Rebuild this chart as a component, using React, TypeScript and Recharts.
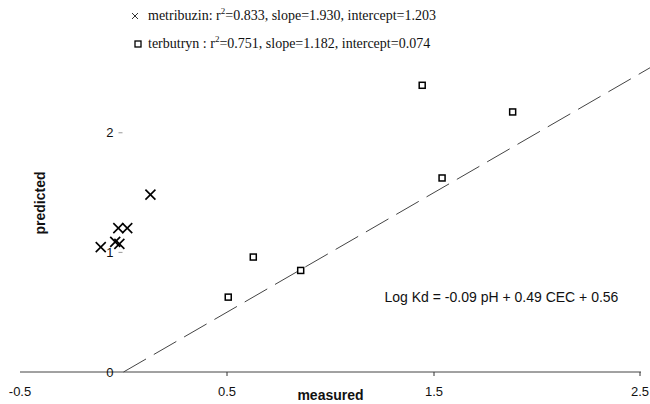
import React from 'react';
import { ScatterChart, Scatter, XAxis, YAxis, ReferenceLine, ReferenceDot, Legend } from 'recharts';

const metribuzinX = [0.13, -0.025, 0.018, -0.11, -0.04, -0.02];
const metribuzinY = [1.483, 1.203, 1.203, 1.044, 1.088, 1.071];
const terbutrynX = [1.443, 1.88, 1.539, 0.627, 0.856, 0.506];
const terbutrynY = [2.397, 2.174, 1.622, 0.961, 0.849, 0.626];

const xTicks = [-0.5, 0.5, 1.5, 2.5];
const yTicks = [0, 1, 2];
const seriesNames = ['metribuzin', 'terbutryn'];
const legendStats = [
  { label: 'metribuzin:', r2: '0.833', slope: '1.930', intercept: '1.203' },
  { label: 'terbutryn :', r2: '0.751', slope: '1.182', intercept: '0.074' },
];
const equationText = 'Log Kd = -0.09 pH + 0.49 CEC + 0.56';
const equationPos = { x: 1.826, y: 0.626 };
const identityLine = [{ x: 0, y: 0 }, { x: 2.55, y: 2.55 }];

const metribuzin = metribuzinX.map((x, i) => ({ x, y: metribuzinY[i] }));
const terbutryn = terbutrynX.map((x, i) => ({ x, y: terbutrynY[i] }));

const W = 650;
const H = 404;
const Y_AXIS_W = 1;
const M = { top: 61, right: 9, bottom: 0, left: 20 - Y_AXIS_W };
const X_MIN = -0.5;
const X_MAX = 2.5;
const PLOT_W = W - M.left - Y_AXIS_W - M.right;
const ZERO_PX = M.left + Y_AXIS_W + (PLOT_W * (0 - X_MIN)) / (X_MAX - X_MIN);

const SANS = '"Liberation Sans", Arial, sans-serif';
const SERIF = '"Liberation Serif", "Times New Roman", serif';

const Cross = (props: any) => {
  const { cx, cy } = props;
  const s = 5;
  return (
    <g stroke="#000" strokeWidth={1.6}>
      <line x1={cx - s} y1={cy - s} x2={cx + s} y2={cy + s} />
      <line x1={cx - s} y1={cy + s} x2={cx + s} y2={cy - s} />
    </g>
  );
};

const Square = (props: any) => {
  const { cx, cy } = props;
  return <rect x={cx - 3} y={cy - 3} width={6} height={6} fill="#fff" stroke="#000" strokeWidth={1.5} />;
};

const XTick = (props: any) => {
  const { x, y, payload } = props;
  return (
    <g>
      {payload.value !== X_MIN && <line x1={x} y1={y - 15} x2={x} y2={y - 11} stroke="#333" />}
      <text x={x} y={y} textAnchor="middle" dy="0.71em" fontSize={13} fontFamily={SANS} fill="#111">
        {payload.value}
      </text>
    </g>
  );
};

const YTick = (props: any) => {
  const { y, payload } = props;
  return (
    <g>
      {payload.value !== 0 && <line x1={ZERO_PX - 5} y1={y} x2={ZERO_PX - 1} y2={y} stroke="#999" />}
      <text x={ZERO_PX - 10} y={y} textAnchor="end" dy="0.355em" fontSize={13} fontFamily={SANS} fill="#111">
        {payload.value}
      </text>
    </g>
  );
};

const LegendContent = () => (
  <div style={{ fontFamily: SERIF, fontSize: 14, color: '#111' }}>
    {legendStats.map((s, i) => (
      <div key={seriesNames[i]} style={{ display: 'flex', alignItems: 'center', height: 28, whiteSpace: 'nowrap' }}>
        <svg width={14} height={14} style={{ flex: 'none' }}>
          {i === 0 ? (
            <g stroke="#333" strokeWidth={1}>
              <line x1={4} y1={4} x2={10} y2={10} />
              <line x1={4} y1={10} x2={10} y2={4} />
            </g>
          ) : (
            <rect x={7} y={4} width={6} height={6} fill="#fff" stroke="#000" strokeWidth={1.3} />
          )}
        </svg>
        <span style={{ marginLeft: 6 }}>
          {s.label} r<span style={{ fontSize: 9, verticalAlign: 'super', lineHeight: 0 }}>2</span>={s.r2}, slope={s.slope}, intercept={s.intercept}
        </span>
      </div>
    ))}
  </div>
);

export default function App() {
  return (
    <div style={{ position: 'absolute', left: 0, top: 0, width: W, height: H, background: '#fff' }}>
      <ScatterChart width={W} height={H} margin={M}>
        <XAxis
          type="number"
          dataKey="x"
          domain={[X_MIN, X_MAX]}
          ticks={xTicks}
          allowDataOverflow
          height={32}
          stroke="#444"
          tickLine={false}
          tickSize={4}
          tickMargin={11}
          tick={<XTick />}
          label={{ value: 'measured', position: 'insideBottom', offset: 4, fontWeight: 'bold', fontSize: 14, fontFamily: SANS, fill: '#111' }}
        />
        <YAxis
          type="number"
          dataKey="y"
          domain={[0, 2.6]}
          ticks={yTicks}
          interval={0}
          width={Y_AXIS_W}
          axisLine={false}
          tickLine={false}
          tick={<YTick />}
        />
        <Legend
          layout="horizontal"
          verticalAlign="middle"
          align="center"
          wrapperStyle={{ top: 2, left: 128, width: 420, height: 56 }}
          content={<LegendContent />}
        />
        <ReferenceLine
          segment={identityLine}
          ifOverflow="visible"
          stroke="#444"
          strokeWidth={1}
          strokeDasharray="26 9"
        />
        <ReferenceDot
          x={equationPos.x}
          y={equationPos.y}
          r={0}
          fill="none"
          stroke="none"
          ifOverflow="visible"
          label={{ value: equationText, position: 'center', fontSize: 14, fontFamily: SANS, fill: '#111' }}
        />
        <Scatter name={seriesNames[0]} data={metribuzin} shape={<Cross />} isAnimationActive={false} />
        <Scatter name={seriesNames[1]} data={terbutryn} shape={<Square />} isAnimationActive={false} />
        <text
          x={40}
          y={203}
          transform="rotate(-90 40 203)"
          textAnchor="middle"
          dominantBaseline="central"
          fontSize={14}
          fontWeight="bold"
          fontFamily={SANS}
          fill="#111"
        >
          predicted
        </text>
      </ScatterChart>
    </div>
  );
}
